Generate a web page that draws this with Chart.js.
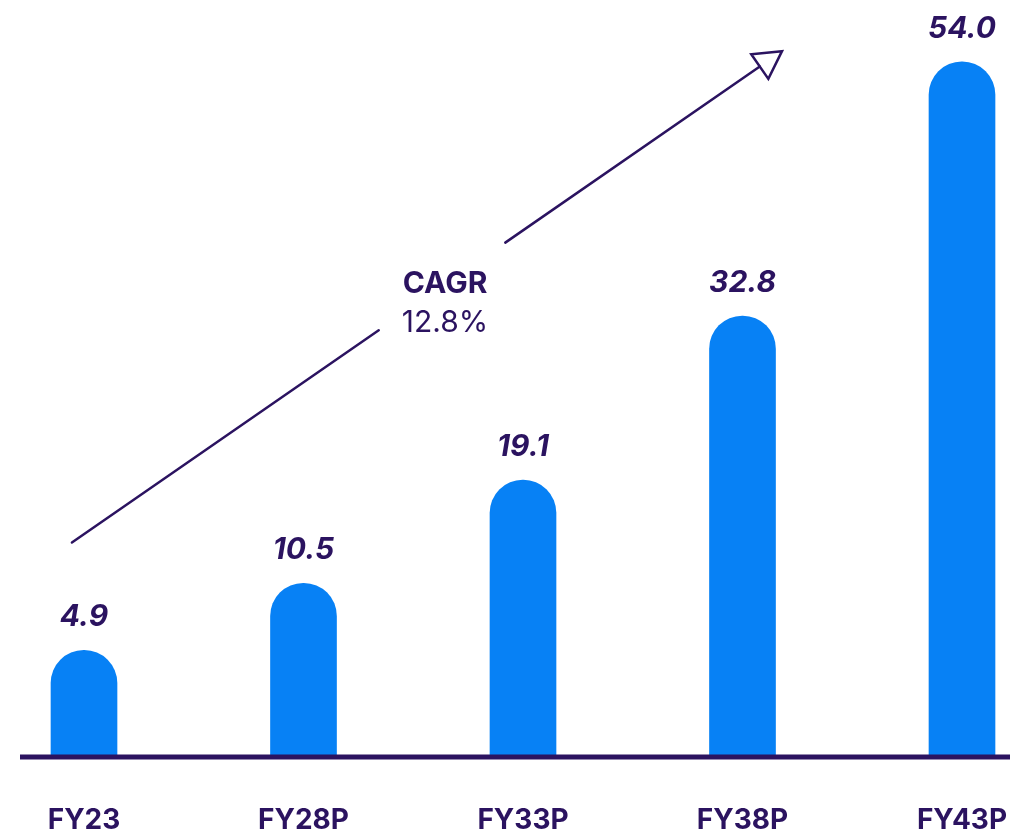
<!DOCTYPE html>
<html>
<head>
<meta charset="utf-8">
<script src="https://cdn.jsdelivr.net/npm/chart.js@4"></script>
<style>
  html, body { margin: 0; padding: 0; background: #ffffff; }
  #wrap { width: 1010px; height: 832px; }
</style>
</head>
<body>
<div id="wrap"><canvas id="chart" width="1010" height="832"></canvas></div>
<script>
// ── Data ────────────────────────────────────────────────
var years  = ["FY23", "FY28P", "FY33P", "FY38P", "FY43P"];
var values = [4.9, 10.5, 19.1, 32.8, 54.0];
var cagrTitle = "CAGR";
var cagrValue = "12.8%";

var INK  = "#2b1360";
var BLUE = "#0781f5";
var FONT = "Inter, 'Open Sans', sans-serif";

// ── Value labels above the bars ─────────────────────────
var valueLabels = {
  id: "valueLabels",
  afterDatasetsDraw: function(chart) {
    var ctx = chart.ctx;
    var meta = chart.getDatasetMeta(0);
    ctx.save();
    ctx.fillStyle = INK;
    ctx.font = "italic 700 30px " + FONT;
    ctx.textAlign = "center";
    ctx.textBaseline = "middle";
    meta.data.forEach(function(bar, i) {
      ctx.fillText(values[i].toFixed(1), bar.x, bar.y - 33);
    });
    ctx.restore();
  }
};

// ── Baseline + CAGR arrow ───────────────────────────────
var cagrArrow = {
  id: "cagrArrow",
  afterDraw: function(chart) {
    var ctx = chart.ctx;
    var xs = chart.scales.x, ys = chart.scales.y;
    var area = chart.chartArea;

    // baseline across the whole width
    ctx.save();
    ctx.strokeStyle = INK;
    ctx.lineWidth = 5;
    ctx.beginPath();
    ctx.moveTo(20, area.bottom);
    ctx.lineTo(chart.width, area.bottom);
    ctx.stroke();

    // arrow from near FY23 to above FY38P
    var x0 = xs.getPixelForValue(-0.055), y0 = ys.getPixelForValue(13.9);
    var x1 = xs.getPixelForValue(3.18),   y1 = ys.getPixelForValue(54.9);
    var dx = x1 - x0, dy = y1 - y0, len = Math.sqrt(dx * dx + dy * dy);
    var ux = dx / len, uy = dy / len;
    var head = 27, half = 15;
    var bx = x1 - ux * head, by = y1 - uy * head;

    function at(t) { return [x0 + (bx - x0) * t, y0 + (by - y0) * t]; }
    var g0 = at(0.446), g1 = at(0.63);

    ctx.lineWidth = 2.5;
    ctx.lineCap = "round";
    ctx.beginPath();
    ctx.moveTo(x0, y0); ctx.lineTo(g0[0], g0[1]);
    ctx.moveTo(g1[0], g1[1]); ctx.lineTo(bx, by);
    ctx.stroke();

    ctx.lineJoin = "miter";
    ctx.beginPath();
    ctx.moveTo(x1, y1);
    ctx.lineTo(bx - uy * half, by + ux * half);
    ctx.lineTo(bx + uy * half, by - ux * half);
    ctx.closePath();
    ctx.stroke();

    // CAGR text in the gap
    var tx = xs.getPixelForValue(1.645);
    ctx.fillStyle = INK;
    ctx.textAlign = "center";
    ctx.textBaseline = "middle";
    ctx.font = "700 30px " + FONT;
    ctx.fillText(cagrTitle, tx, ys.getPixelForValue(35.45));
    ctx.font = "400 30px " + FONT;
    ctx.fillText(cagrValue, tx, ys.getPixelForValue(32.25));
    ctx.restore();
  }
};

new Chart(document.getElementById("chart"), {
  type: "bar",
  data: {
    labels: years,
    datasets: [{
      data: values,
      base: -4,
      backgroundColor: BLUE,
      barThickness: 66,
      borderRadius: { topLeft: 33, topRight: 33, bottomLeft: 0, bottomRight: 0 },
      borderSkipped: "bottom",
      clip: false
    }]
  },
  options: {
    responsive: false,
    animation: false,
    layout: { padding: { left: 84, right: 48, top: 14, bottom: 0 } },
    plugins: { legend: { display: false }, tooltip: { enabled: false } },
    scales: {
      x: {
        offset: false,
        grid: { display: false, drawTicks: false },
        border: { display: false },
        ticks: {
          color: INK,
          padding: 47,
          maxRotation: 0,
          autoSkip: false,
          font: { family: FONT, size: 28, weight: "700" }
        },
        afterFit: function(scale) {
          scale.height = 75;
          scale.paddingLeft = 0;
          scale.paddingRight = 0;
        }
      },
      y: {
        display: false,
        min: -4,
        max: 58
      }
    }
  },
  plugins: [valueLabels, cagrArrow]
});
</script>
</body>
</html>
